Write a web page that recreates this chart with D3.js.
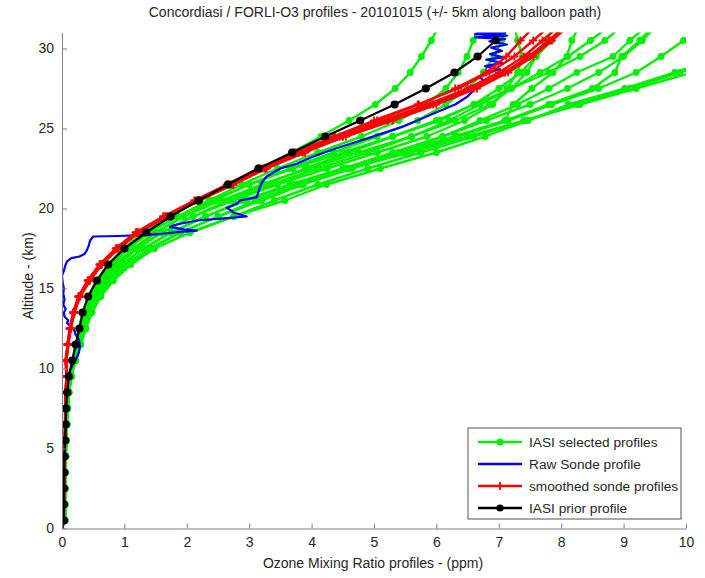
<!DOCTYPE html>
<html>
<head>
<meta charset="utf-8">
<script src="https://cdn.jsdelivr.net/npm/d3@7"></script>
<style>
  body { margin: 0; background: #fff; }
  text { font-family: "Liberation Sans", Arial, Helvetica, sans-serif; }
</style>
</head>
<body>
<svg id="chart" width="705" height="578"></svg>
<script>
// Altitude grid of the retrieval layers (km)
const altitudes = [0.5, 1.5, 2.5, 3.5, 4.5, 5.5, 6.5, 7.5, 8.5, 9.5, 10.5, 11.5, 12.5, 13.5, 14.5, 15.5,
  16.5, 17.5, 18.5, 19.5, 20.5, 21.5, 22.5, 23.5, 24.5, 25.5, 26.5, 27.5, 28.5, 29.5, 30.5, 31.5];

// IASI a-priori profile (ppm), levels 0.5 .. 30.5 km
const priorProfile = [0.03, 0.03, 0.03, 0.035, 0.04, 0.05, 0.06, 0.065, 0.085, 0.11, 0.165, 0.22, 0.28, 0.33,
  0.42, 0.56, 0.74, 1.0, 1.35, 1.74, 2.19, 2.66, 3.15, 3.69, 4.22, 4.78, 5.33, 5.83, 6.29, 6.66, 6.95];

// IASI retrieved profiles selected along the balloon path (ppm), levels 0.5 .. 31.5 km
const iasiProfiles = [
  [0.04,0.04,0.04,0.05,0.05,0.06,0.07,0.08,0.10,0.13, 0.17,0.22,0.27,0.33,0.42,0.55,0.74,0.98,1.30,1.70, 2.20,2.68,3.18,3.68,4.15,4.60,5.02,5.34,5.58,5.76,5.92,6.05],
  [0.05,0.05,0.05,0.05,0.06,0.07,0.08,0.09,0.11,0.14, 0.18,0.23,0.29,0.36,0.46,0.60,0.80,1.06,1.40,1.85, 2.35,2.88,3.45,4.10,4.80,5.40,5.85,6.15,6.35,6.49,6.59,6.70],
  [0.04,0.04,0.05,0.05,0.06,0.06,0.07,0.09,0.11,0.15, 0.19,0.24,0.30,0.38,0.49,0.64,0.86,1.14,1.50,1.95, 2.45,3.00,3.65,4.35,5.05,5.70,6.15,6.50,6.75,6.92,7.05,7.15],
  [0.04,0.04,0.04,0.05,0.05,0.06,0.07,0.08,0.10,0.13, 0.20,0.26,0.32,0.41,0.52,0.68,0.90,1.20,1.60,2.10, 2.75,3.45,4.25,5.05,5.85,6.45,6.90,7.13,7.30,7.38,7.30,7.25],
  [0.05,0.05,0.05,0.05,0.06,0.07,0.08,0.09,0.11,0.14, 0.19,0.24,0.30,0.38,0.49,0.64,0.86,1.14,1.50,1.95, 2.55,3.20,3.95,4.75,5.60,6.30,6.85,7.20,7.45,7.60,7.75,7.90],
  [0.04,0.04,0.05,0.05,0.06,0.06,0.07,0.09,0.11,0.15, 0.20,0.27,0.34,0.44,0.56,0.73,0.97,1.30,1.75,2.30, 2.90,3.65,4.50,5.45,6.30,7.10,7.23,7.53,7.87,8.09,8.17,8.30],
  [0.04,0.04,0.04,0.05,0.05,0.06,0.07,0.08,0.10,0.13, 0.20,0.26,0.32,0.41,0.52,0.68,0.90,1.20,1.60,2.10, 2.70,3.35,4.10,4.90,5.60,6.20,6.70,7.20,7.66,8.11,8.47,8.80],
  [0.05,0.05,0.05,0.05,0.06,0.07,0.08,0.09,0.11,0.14, 0.21,0.28,0.36,0.46,0.60,0.78,1.04,1.40,1.90,2.50, 3.10,3.80,4.60,5.40,6.10,6.70,7.30,7.80,8.25,8.83,9.10,9.40],
  [0.04,0.04,0.05,0.05,0.06,0.06,0.07,0.09,0.11,0.15, 0.20,0.27,0.34,0.44,0.56,0.73,0.97,1.30,1.75,2.30, 2.95,3.70,4.55,5.40,6.30,7.10,7.80,8.50,8.86,8.97,9.26,9.50],
  [0.04,0.04,0.04,0.05,0.05,0.06,0.07,0.08,0.10,0.13, 0.21,0.28,0.36,0.46,0.60,0.78,1.04,1.40,1.90,2.50, 3.15,3.85,4.65,5.50,6.35,7.15,7.85,8.60,9.20,9.60,9.96,10.30],
  [0.05,0.05,0.05,0.05,0.06,0.07,0.08,0.09,0.11,0.14, 0.22,0.30,0.38,0.48,0.62,0.82,1.10,1.48,2.05,2.75, 3.57,4.24,5.10,6.00,6.78,7.47,8.11,9.02,9.82,10.60,11.30,12.00],
  [0.04,0.04,0.05,0.05,0.06,0.06,0.07,0.09,0.11,0.15, 0.21,0.28,0.36,0.46,0.60,0.78,1.04,1.40,1.90,2.50, 3.20,3.87,4.56,5.58,6.50,7.40,8.30,9.20,10.10,11.00,11.80,12.50],
  [0.04,0.04,0.04,0.05,0.05,0.06,0.07,0.08,0.10,0.13, 0.18,0.23,0.29,0.36,0.46,0.60,0.80,1.06,1.40,1.85, 2.40,3.00,3.70,4.50,5.30,6.05,6.60,7.00,7.35,7.60,7.85,8.05],
  [0.05,0.05,0.05,0.05,0.06,0.07,0.08,0.09,0.11,0.14, 0.20,0.27,0.34,0.44,0.56,0.73,0.97,1.30,1.75,2.30, 2.95,3.70,4.50,5.30,6.10,6.80,7.50,8.10,8.60,9.00,9.30,9.55],
  [0.04,0.04,0.05,0.05,0.06,0.06,0.07,0.09,0.11,0.15, 0.22,0.30,0.38,0.48,0.62,0.82,1.10,1.48,2.05,2.75, 3.40,4.10,4.90,5.75,6.60,7.45,8.25,9.10,9.90,10.70,11.40,12.00],
  [0.04,0.04,0.04,0.05,0.05,0.06,0.07,0.08,0.10,0.13, 0.20,0.26,0.32,0.41,0.52,0.68,0.90,1.20,1.60,2.10, 2.65,3.25,3.90,4.60,5.30,6.00,6.60,7.20,7.80,8.30,8.70,9.00]
];

// Sonde profiles smoothed with the IASI averaging kernels (ppm), levels 0.5 .. 31.5 km
const smoothedSonde = [
  [0.03,0.03,0.03,0.04,0.04,0.05,0.05,0.05,0.06,0.07, 0.06,0.09,0.13,0.19,0.27,0.43,0.62,0.88,1.20,1.65, 2.17,2.70,3.20,3.80,4.45,5.15,5.85,6.50,7.00,7.40,7.70,8.00],
  [0.03,0.03,0.03,0.04,0.04,0.05,0.05,0.06,0.06,0.07, 0.07,0.10,0.14,0.20,0.28,0.44,0.63,0.90,1.22,1.68, 2.20,2.74,3.26,3.88,4.55,5.30,6.00,6.65,7.15,7.55,7.85,8.15],
  [0.03,0.03,0.03,0.03,0.04,0.04,0.05,0.05,0.06,0.07, 0.06,0.09,0.12,0.18,0.26,0.41,0.60,0.86,1.18,1.62, 2.14,2.66,3.16,3.74,4.35,5.00,5.70,6.35,6.85,7.25,7.55,7.85],
  [0.03,0.03,0.04,0.04,0.04,0.05,0.05,0.06,0.06,0.08, 0.07,0.10,0.14,0.20,0.29,0.45,0.64,0.91,1.23,1.69, 2.20,2.75,3.28,3.90,4.50,5.22,5.95,6.60,7.10,7.48,7.80,8.10],
  [0.03,0.03,0.03,0.04,0.04,0.04,0.05,0.05,0.06,0.07, 0.06,0.09,0.13,0.18,0.27,0.42,0.61,0.87,1.19,1.63, 2.12,2.64,3.14,3.72,4.38,5.05,5.72,6.30,6.80,7.12,7.35,7.60],
  [0.03,0.03,0.03,0.04,0.04,0.05,0.05,0.06,0.06,0.07, 0.07,0.10,0.13,0.19,0.28,0.44,0.62,0.89,1.21,1.66, 2.18,2.72,3.24,3.85,4.50,5.20,5.90,6.55,7.08,7.50,7.82,8.05]
];

// Raw ozonesonde profile: [ozone (ppm), altitude (km)]
const rawSonde = [
  [0.01,0.0],[0.03,0.4],[0.02,1.0],[0.04,1.6],[0.03,2.3],[0.02,3.0],[0.04,3.6],[0.03,4.3],[0.05,5.0],
  [0.04,5.7],[0.05,6.4],[0.06,7.1],[0.05,7.7],[0.07,8.3],[0.08,8.9],[0.10,9.4],[0.13,9.9],[0.18,10.3],
  [0.24,10.7],[0.27,11.0],[0.29,11.4],[0.27,11.8],[0.22,12.1],[0.20,12.35],[0.15,12.6],[0.08,12.85],
  [0.10,13.0],[0.04,13.25],[0.03,13.5],[0.06,13.7],[0.02,14.0],[0.04,14.3],[0.02,14.7],[0.03,15.0],
  [0.01,15.4],[0.00,15.8],[0.03,16.1],[0.05,16.4],[0.08,16.7],[0.15,16.9],[0.28,17.0],[0.36,17.15],
  [0.40,17.4],[0.43,17.7],[0.45,18.0],[0.50,18.25],[0.90,18.28],[1.30,18.33],[1.60,18.42],[1.85,18.52],
  [2.16,18.62],[1.95,18.7],[1.73,18.85],[1.80,18.97],[2.16,19.25],[2.60,19.38],[2.96,19.5],[2.75,19.75],
  [2.64,20.05],[2.80,20.3],[2.85,20.5],[3.12,20.7],[3.17,21.3],[3.20,21.6],[3.28,22.0],[3.50,22.5],
  [3.76,22.8],[4.00,23.2],[4.35,23.7],[4.75,24.2],[5.10,24.65],[5.45,25.1],[5.75,25.6],[6.05,26.1],
  [6.30,26.5],[6.50,27.0],[6.62,27.5],[6.78,27.9],[6.70,28.2],[6.82,28.5],[7.02,28.7],[6.78,28.9],
  [7.05,29.1],[6.80,29.3],[7.07,29.45],[6.86,29.65],[7.05,29.85],[6.88,30.05],[7.13,30.25],[6.85,30.45],
  [7.10,30.6],[6.62,30.7],[7.13,30.8],[6.62,30.9],[7.10,30.98],[6.65,31.05]
];

const xTicks = [0, 1, 2, 3, 4, 5, 6, 7, 8, 9, 10];
const yTicks = [0, 5, 10, 15, 20, 25, 30];

const titleText = "Concordiasi / FORLI-O3 profiles - 20101015 (+/- 5km along balloon path)";
const xLabel = "Ozone Mixing Ratio profiles - (ppm)";
const yLabel = "Altitude - (km)";
const legendLabels = ["IASI selected profiles", "Raw Sonde profile", "smoothed sonde profiles", "IASI prior profile"];

const colors = { iasi: "#00f000", raw: "#0000ff", smooth: "#ff0000", prior: "#000000" };

const svg = d3.select("#chart");
const x = d3.scaleLinear().domain([0, 10]).range([62, 686]);
const y = d3.scaleLinear().domain([0, 31]).range([528.5, 32.5]);

svg.append("defs").append("clipPath").attr("id", "plotArea")
  .append("rect")
  .attr("x", x(0)).attr("y", y(31))
  .attr("width", x(10) - x(0)).attr("height", y(0) - y(31));

const plot = svg.append("g").attr("clip-path", "url(#plotArea)");

const line = d3.line().x(d => x(d[0])).y(d => y(d[1]));
const pairs = vals => vals.map((v, i) => [v, altitudes[i]]);

// IASI selected profiles
iasiProfiles.forEach(p => {
  const pts = pairs(p);
  const g = plot.append("g");
  g.append("path").attr("d", line(pts))
    .attr("fill", "none").attr("stroke", colors.iasi).attr("stroke-width", 2.4)
    .attr("stroke-linejoin", "round");
  g.selectAll("circle").data(pts).join("circle")
    .attr("cx", d => x(d[0])).attr("cy", d => y(d[1])).attr("r", 3.4)
    .attr("fill", colors.iasi);
});

// Raw sonde
plot.append("path").attr("d", line(rawSonde))
  .attr("fill", "none").attr("stroke", colors.raw).attr("stroke-width", 2.2)
  .attr("stroke-linejoin", "round");

// Smoothed sonde profiles
const plusPath = "M-4,0H4M0,-4V4";
smoothedSonde.forEach(p => {
  const pts = pairs(p);
  const g = plot.append("g");
  g.append("path").attr("d", line(pts))
    .attr("fill", "none").attr("stroke", colors.smooth).attr("stroke-width", 2.4)
    .attr("stroke-linejoin", "round");
  g.selectAll("path.mk").data(pts).join("path").attr("class", "mk")
    .attr("d", plusPath)
    .attr("transform", d => `translate(${x(d[0])},${y(d[1])})`)
    .attr("stroke", colors.smooth).attr("stroke-width", 1.8);
});

// IASI prior
{
  const pts = pairs(priorProfile);
  plot.append("path").attr("d", line(pts))
    .attr("fill", "none").attr("stroke", colors.prior).attr("stroke-width", 2.2);
  plot.selectAll("circle.prior").data(pts).join("circle").attr("class", "prior")
    .attr("cx", d => x(d[0])).attr("cy", d => y(d[1])).attr("r", 4.1)
    .attr("fill", colors.prior);
}

// Axes
const axisColor = "#808080";
const xAxis = svg.append("g").attr("transform", `translate(0,${y(0)})`)
  .call(d3.axisBottom(x).tickValues(xTicks).tickFormat(d3.format("d"))
    .tickSizeInner(-5).tickSizeOuter(0).tickPadding(9));
const yAxis = svg.append("g").attr("transform", `translate(${x(0)},0)`)
  .call(d3.axisLeft(y).tickValues(yTicks).tickFormat(d3.format("d"))
    .tickSizeInner(-5).tickSizeOuter(0).tickPadding(8));
[xAxis, yAxis].forEach(a => {
  a.select(".domain").attr("stroke", axisColor);
  a.selectAll(".tick line").attr("stroke", axisColor);
  a.selectAll(".tick text").attr("fill", "#262626").attr("font-size", 14)
    .style("font-family", "'Liberation Sans', Arial, sans-serif");
});

// Title and axis labels
svg.append("text").attr("x", 375).attr("y", 17).attr("text-anchor", "middle")
  .attr("font-size", 14).attr("fill", "#262626").text(titleText);
svg.append("text").attr("x", 373).attr("y", 568).attr("text-anchor", "middle")
  .attr("font-size", 14).attr("fill", "#262626").text(xLabel);
svg.append("text").attr("transform", "translate(33,276) rotate(-90)").attr("text-anchor", "middle")
  .attr("font-size", 14).attr("fill", "#262626").text(yLabel);

// Legend
const legend = svg.append("g");
legend.append("rect").attr("x", 468).attr("y", 428).attr("width", 213).attr("height", 91)
  .attr("fill", "#fff").attr("stroke", "#555").attr("stroke-width", 1);
const legendColors = [colors.iasi, colors.raw, colors.smooth, colors.prior];
const legendMarkers = ["dot", "none", "plus", "dot"];
legendLabels.forEach((lab, i) => {
  const cy = 442 + i * 22;
  legend.append("line").attr("x1", 478).attr("x2", 522).attr("y1", cy).attr("y2", cy)
    .attr("stroke", legendColors[i]).attr("stroke-width", 2.4);
  if (legendMarkers[i] === "dot") {
    legend.append("circle").attr("cx", 500).attr("cy", cy).attr("r", 3.6).attr("fill", legendColors[i]);
  } else if (legendMarkers[i] === "plus") {
    legend.append("path").attr("d", plusPath).attr("transform", `translate(500,${cy})`)
      .attr("stroke", legendColors[i]).attr("stroke-width", 1.8);
  }
  legend.append("text").attr("x", 529).attr("y", cy + 5).attr("font-size", 13.7)
    .attr("fill", "#262626").text(lab);
});
</script>
</body>
</html>
